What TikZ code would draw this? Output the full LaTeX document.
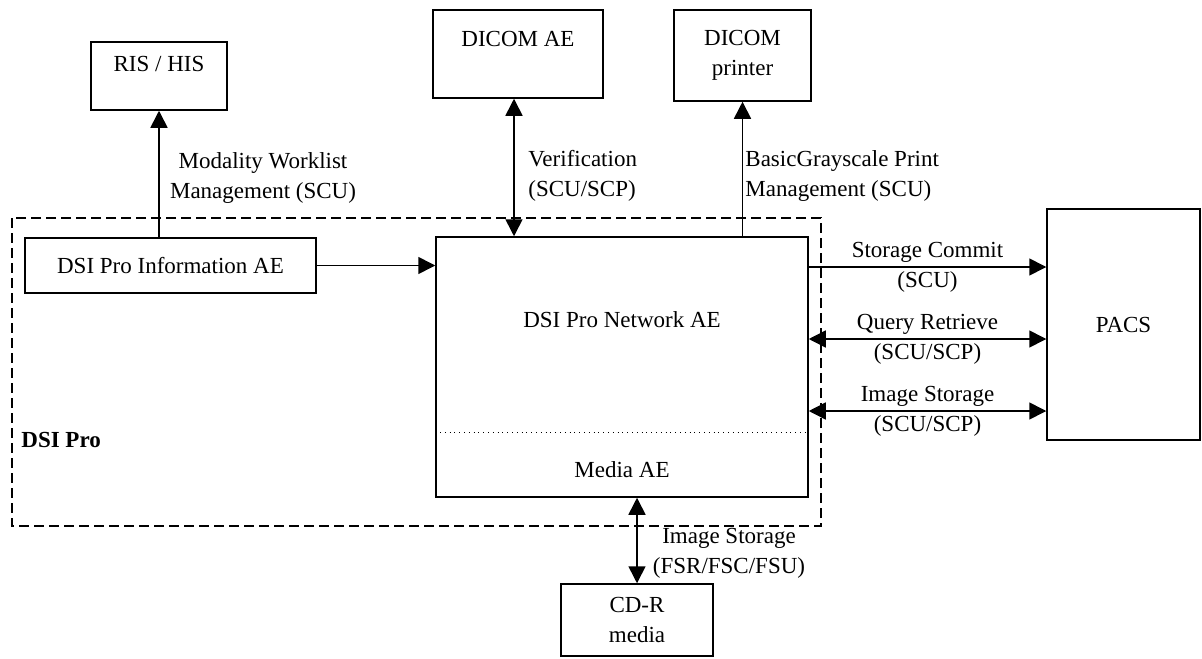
\documentclass[tikz,border=0pt]{standalone}
\usepackage{fontspec}
\setmainfont{Liberation Serif}
\usetikzlibrary{arrows.meta}

\begin{document}
\begin{tikzpicture}[x=0.5pt,y=-0.5pt,
    font=\fontsize{11.5}{15}\selectfont,
    box/.style={draw,line width=0.75pt,inner sep=0pt,align=center},
    link/.style={line width=0.8pt,-{Triangle[length=8.5pt,width=8.5pt]}},
    twolink/.style={line width=0.8pt,{Triangle[length=8.5pt,width=8.5pt]}-{Triangle[length=8.5pt,width=8.5pt]}},
    lbl/.style={align=center,inner sep=0pt}]
    \useasboundingbox (0,0) rectangle (1202,658);

    % DSI Pro frame
    \draw[dashed,line width=1pt,dash pattern=on 5pt off 2.5pt] (12,218) rectangle (821,526);
    \node[font=\fontsize{11.5}{15}\selectfont\bfseries,anchor=west,inner sep=0pt] (pro) at (21,440) {DSI Pro};

    % boxes
    \node[box,minimum width=68pt,minimum height=34pt] (ris) at (159,76) {RIS / HIS\\[-7pt]\strut};
    \node[box,minimum width=85pt,minimum height=44pt] (dicom) at (518,54) {DICOM AE\\[-4pt]\strut};
    \node[box,minimum width=68.5pt,minimum height=45.5pt] (printer) at (742.5,55.5) {DICOM\\printer};
    \node[box,minimum width=145.5pt,minimum height=27.5pt] (info) at (170.5,265.5) {DSI Pro Information AE};
    \node[box,minimum width=186pt,minimum height=130pt] (net) at (622,367) {};
    \node[lbl] (nettext) at (622,320) {DSI Pro Network AE};
    \node[lbl] (media) at (622,470) {Media AE};
    \draw[dotted,line width=0.4pt] (net.west |- 0,432) -- (net.east |- 0,432);
    \node[box,minimum width=76.5pt,minimum height=115.5pt] (pacs) at (1123.5,324.5) {PACS};
    \node[box,minimum width=76pt,minimum height=36pt] (cdr) at (637,620) {CD-R\\media};

    % connections
    \draw[link] (ris.south |- info.north) -- (ris.south);
    \node[lbl] (mwl) at (263,178) {Modality Worklist\\Management (SCU)};
    \draw[twolink] (514,0 |- net.north) -- (514,0 |- dicom.south);
    \node[lbl,anchor=west,align=left] (ver) at (528,176) {Verification\\(SCU/SCP)};
    \draw[link] (printer.south |- net.north) -- (printer.south);
    \node[lbl,anchor=west,align=left] (print) at (745,176) {BasicGrayscale Print\\Management (SCU)};
    \draw[link] (info.east) -- (info.east -| net.west);

    \draw[link] (net.east |- 0,267) -- (pacs.west |- 0,267)
        node[lbl,midway] (commit) {Storage Commit\\(SCU)};
    \foreach \y/\desc/\nm in {339/Query Retrieve/query, 411/Image Storage/store} {
        \draw[twolink] (net.east |- 0,\y) -- (pacs.west |- 0,\y)
            node[lbl,midway] (\nm) {\desc\\(SCU/SCP)};
    }
    \draw[twolink] (cdr.north |- net.south) -- (cdr.north);
    \node[lbl] (fsr) at (729,553) {Image Storage\\(FSR/FSC/FSU)};
\end{tikzpicture}
\end{document}
